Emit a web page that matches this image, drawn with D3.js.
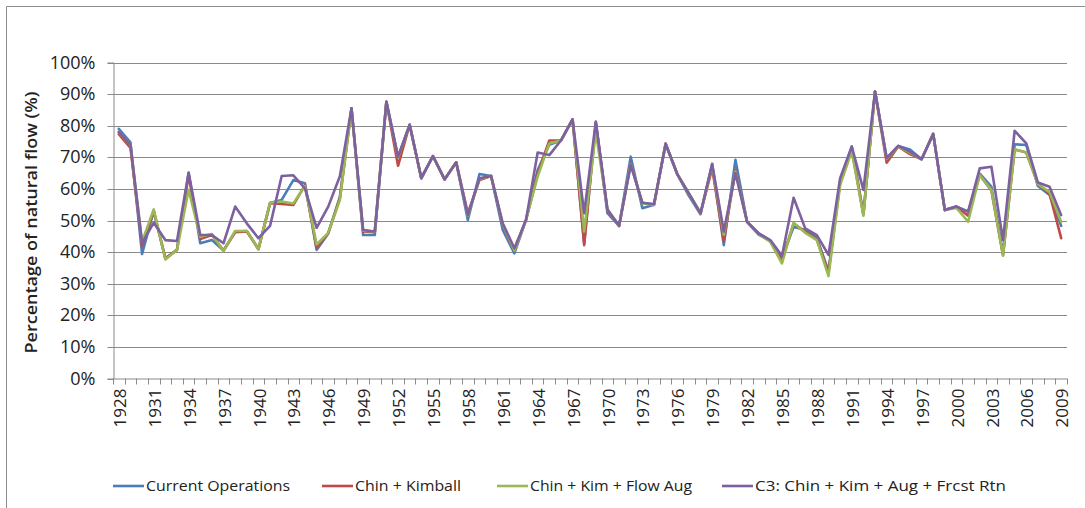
<!DOCTYPE html>
<html>
<head>
<meta charset="utf-8">
<script src="https://cdn.jsdelivr.net/npm/d3@7"></script>
<style>
  html, body { margin: 0; padding: 0; background: #fff; }
  svg { display: block; }
  text { font-family: "Open Sans", "Noto Sans", sans-serif; fill: #222; }
</style>
</head>
<body>
<svg id="chart" width="1085" height="508"></svg>
<script>
// Water years shown on the category axis
const years = d3.range(1928, 2010);

// Percentage of natural flow by scenario, one value per year (1928-2009)
const currentOperations = [
  79.0, 74.7, 39.4, 53.0, 38.0, 40.7, 65.0, 42.8, 43.8, 40.5,
  46.5, 46.7, 40.9, 55.5, 56.5, 62.8, 61.8, 40.7, 45.9, 57.5,
  85.5, 45.4, 45.4, 87.6, 70.0, 80.3, 63.4, 70.4, 63.0, 68.4,
  50.2, 64.7, 64.1, 47.0, 39.6, 50.2, 66.0, 74.0, 75.3, 82.0,
  42.8, 81.0, 52.3, 48.3, 70.2, 53.9, 55.0, 74.2, 64.7, 57.8,
  52.0, 67.9, 42.2, 69.2, 49.6, 45.5, 43.5, 38.0, 48.0, 47.0,
  44.5, 34.0, 62.5, 73.4, 52.0, 90.8, 69.7, 73.6, 72.5, 69.4,
  77.4, 53.3, 54.4, 52.8, 64.8, 60.7, 39.5, 74.1, 73.9, 60.9,
  58.1, 48.3
];
const chinKimball = [
  77.3, 73.0, 42.0, 53.0, 38.0, 40.7, 64.5, 44.1, 45.4, 40.5,
  46.3, 46.5, 41.0, 55.5, 55.2, 54.9, 61.2, 41.5, 46.0, 57.0,
  85.5, 46.5, 46.3, 87.6, 67.3, 80.3, 63.4, 70.4, 63.0, 68.4,
  52.3, 62.8, 64.1, 48.5, 40.5, 50.2, 64.8, 75.3, 75.3, 82.0,
  42.2, 81.0, 53.2, 48.3, 68.0, 55.6, 54.9, 74.4, 64.7, 58.5,
  52.3, 66.5, 43.5, 66.0, 49.6, 45.9, 43.5, 37.5, 49.0, 46.5,
  44.0, 33.5, 62.0, 72.5, 52.0, 90.8, 68.3, 73.4, 71.0, 69.4,
  77.4, 53.3, 54.4, 51.5, 64.4, 59.5, 39.0, 72.5, 71.5, 61.5,
  58.5, 44.4
];
const chinKimFlowAug = [
  78.0, 74.0, 43.3, 53.5, 37.7, 40.7, 59.7, 44.9, 45.7, 40.3,
  46.7, 46.7, 40.9, 55.6, 56.0, 55.4, 60.9, 42.4, 46.1, 56.5,
  85.2, 46.8, 46.5, 87.6, 70.0, 80.3, 63.4, 70.4, 63.0, 68.4,
  51.5, 63.2, 64.1, 48.8, 40.5, 50.2, 63.9, 74.4, 75.3, 82.0,
  46.5, 78.0, 53.5, 48.3, 67.8, 55.4, 55.0, 74.2, 64.7, 58.5,
  52.3, 67.5, 45.5, 65.5, 49.6, 45.9, 43.2, 36.4, 49.3, 46.1,
  43.8, 32.4, 61.2, 72.0, 51.5, 90.8, 69.5, 73.4, 71.5, 69.4,
  77.4, 53.3, 54.0, 49.6, 64.4, 59.7, 38.9, 72.5, 71.5, 61.5,
  59.0, 49.6
];
const c3FrcstRtn = [
  78.0, 74.0, 42.8, 49.3, 43.8, 43.5, 65.2, 45.4, 45.4, 42.8,
  54.4, 49.1, 44.4, 48.3, 64.1, 64.3, 60.2, 47.7, 54.4, 64.0,
  85.5, 47.0, 46.5, 87.6, 70.2, 80.3, 63.4, 70.4, 63.0, 68.4,
  51.7, 63.4, 64.1, 49.1, 41.2, 50.2, 71.5, 70.7, 75.3, 82.0,
  52.3, 81.3, 53.5, 48.3, 67.6, 55.6, 55.2, 74.2, 64.7, 58.6,
  52.3, 67.9, 46.5, 65.0, 49.6, 45.9, 43.8, 38.8, 57.2, 47.5,
  45.4, 39.1, 63.4, 73.4, 59.7, 90.8, 69.7, 73.6, 71.8, 69.4,
  77.4, 53.3, 54.4, 52.8, 66.5, 67.0, 43.8, 78.4, 74.4, 62.0,
  60.7, 51.7
];

const seriesNames = [
  "Current Operations",
  "Chin + Kimball",
  "Chin + Kim + Flow Aug",
  "C3: Chin + Kim + Aug + Frcst Rtn"
];
const seriesColors = ["#4a7ebb", "#be4b48", "#98b954", "#7d60a0"];
const seriesValues = [currentOperations, chinKimball, chinKimFlowAug, c3FrcstRtn];

const yTicks = [0, 10, 20, 30, 40, 50, 60, 70, 80, 90, 100];
const yTitle = "Percentage of natural flow (%)";

const svg = d3.select("#chart");

// outer chart frame (open on the right and bottom)
svg.append("path")
  .attr("d", "M6.5,508 L6.5,6.5 L1085,6.5")
  .attr("fill", "none")
  .attr("stroke", "#8c8c8c")
  .attr("stroke-width", 1);

const plot = { left: 113, right: 1067, top: 62.5, bottom: 378.5 };

const x = d3.scaleBand().domain(years).range([plot.left, plot.right]);
const y = d3.scaleLinear().domain([0, 100]).range([plot.bottom, plot.top]);
const cx = d => x(d) + x.bandwidth() / 2;

// horizontal gridlines
svg.append("g")
  .selectAll("line")
  .data(yTicks.filter(t => t > 0))
  .join("line")
  .attr("x1", plot.left).attr("x2", plot.right)
  .attr("y1", d => Math.round(y(d)) + 0.5).attr("y2", d => Math.round(y(d)) + 0.5)
  .attr("stroke", "#8a8a8a")
  .attr("stroke-width", 1);

// y axis
const yAxis = d3.axisLeft(y)
  .tickValues(yTicks)
  .tickSize(6)
  .tickPadding(12)
  .tickFormat(d => d + "%");
const gy = svg.append("g")
  .attr("transform", `translate(${plot.left + 0.5},0)`)
  .call(yAxis);
gy.select(".domain").attr("stroke", "#8a8a8a");
gy.selectAll(".tick line").attr("stroke", "#8a8a8a");
gy.selectAll(".tick").attr("transform", d => `translate(0,${Math.round(y(d)) + 0.5})`);
gy.selectAll(".tick text")
  .attr("font-size", 18)
  .attr("fill", "#222")
  .style("font-family", "'Open Sans', 'Noto Sans', sans-serif");

// x axis: ticks on the category boundaries, labels every third year
const gx = svg.append("g").attr("transform", `translate(0,${plot.bottom})`);
gx.append("line")
  .attr("x1", plot.left).attr("x2", plot.right)
  .attr("y1", 0.5).attr("y2", 0.5)
  .attr("stroke", "#8a8a8a");
const boundaries = years.map(d => x(d)).concat([plot.right]);
gx.selectAll("line.tk")
  .data(boundaries)
  .join("line")
  .attr("class", "tk")
  .attr("x1", d => Math.round(d) + 0.5).attr("x2", d => Math.round(d) + 0.5)
  .attr("y1", 0).attr("y2", 6)
  .attr("stroke", "#8a8a8a");
gx.selectAll("text")
  .data(years.filter((d, i) => i % 3 === 0))
  .join("text")
  .attr("transform", d => `translate(${cx(d) + 1},10) rotate(-90)`)
  .attr("text-anchor", "end")
  .attr("dy", "0.36em")
  .attr("font-size", 17)
  .text(d => d);

// y axis title
svg.append("text")
  .attr("transform", `translate(31,${(plot.top + plot.bottom) / 2 + 2}) rotate(-90)`)
  .attr("text-anchor", "middle")
  .attr("dy", "0.36em")
  .attr("font-size", 16)
  .attr("font-weight", "600")
  .attr("textLength", 262)
  .attr("lengthAdjust", "spacingAndGlyphs")
  .text(yTitle);

// series lines
const line = d3.line()
  .x((d, i) => cx(years[i]))
  .y(d => y(d));
svg.append("g")
  .selectAll("path")
  .data(seriesValues)
  .join("path")
  .attr("d", d => line(d))
  .attr("fill", "none")
  .attr("stroke", (d, i) => seriesColors[i])
  .attr("stroke-width", 2.6)
  .attr("stroke-linejoin", "round")
  .attr("stroke-linecap", "round");

// legend
const legendItems = [
  { x: 113, w: 144 },
  { x: 322, w: 106 },
  { x: 497, w: 162 },
  { x: 722, w: 251 }
];
const lg = svg.append("g").attr("transform", "translate(0,486)");
legendItems.forEach((it, i) => {
  lg.append("line")
    .attr("x1", it.x).attr("x2", it.x + 31)
    .attr("y1", 0).attr("y2", 0)
    .attr("stroke", seriesColors[i])
    .attr("stroke-width", 2.6);
  lg.append("text")
    .attr("x", it.x + 33)
    .attr("y", 0)
    .attr("dy", "0.35em")
    .attr("font-size", 15)
    .attr("textLength", it.w)
    .attr("lengthAdjust", "spacingAndGlyphs")
    .text(seriesNames[i]);
});
</script>
</body>
</html>
